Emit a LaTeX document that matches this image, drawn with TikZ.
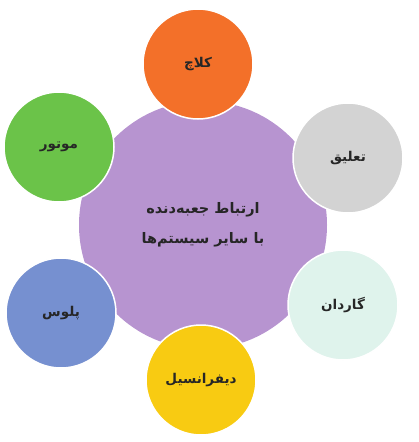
\documentclass[tikz,border=0pt]{standalone}
\usepackage{fontspec}
\newfontfamily\arabicfont[Script=Arabic]{DejaVu Sans}
\TeXXeTstate=1
\definecolor{hubpurple}{HTML}{B794D0}
\definecolor{clutchorange}{HTML}{F37029}
\definecolor{motorgreen}{HTML}{6BC349}
\definecolor{suspgrey}{HTML}{D3D3D3}
\definecolor{shaftmint}{HTML}{DFF3EC}
\definecolor{axleblue}{HTML}{7690D0}
\definecolor{diffyellow}{HTML}{F8CB12}
\begin{document}
\begin{tikzpicture}[x=1pt,y=-1pt,
  part/.style={circle,draw=white,line width=1.5pt,minimum size=110pt,inner sep=0pt,
    text=black!85,font=\arabicfont\bfseries\fontsize{13.5}{15}\selectfont}]
\useasboundingbox (0,0) rectangle (418,442);
% hub
\node[circle,fill=hubpurple,minimum size=248pt,inner sep=0pt,align=center,text=black!85,
  font=\arabicfont\bfseries\fontsize{14.5}{30}\selectfont] (hub) at (203,225)
  {\beginR ارتباط جعبه‌دنده\endR\\\beginR با سایر سیستم‌ها\endR};
% parts around it
\node[part,fill=clutchorange] (clutch) at (198,64) {\beginR کلاچ\endR};
\node[part,fill=motorgreen] (motor) at (59,147) {\beginR موتور\endR};
\node[part,fill=suspgrey] (susp) at (348,158) {\beginR تعلیق\endR};
\node[part,fill=shaftmint] (shaft) at (343,305) {\beginR گاردان\endR};
\node[part,fill=axleblue] (axle) at (61,313) {\beginR پلوس\endR};
\node[part,fill=diffyellow] (diff) at (201,380) {\beginR دیفرانسیل\endR};
\end{tikzpicture}
\end{document}
